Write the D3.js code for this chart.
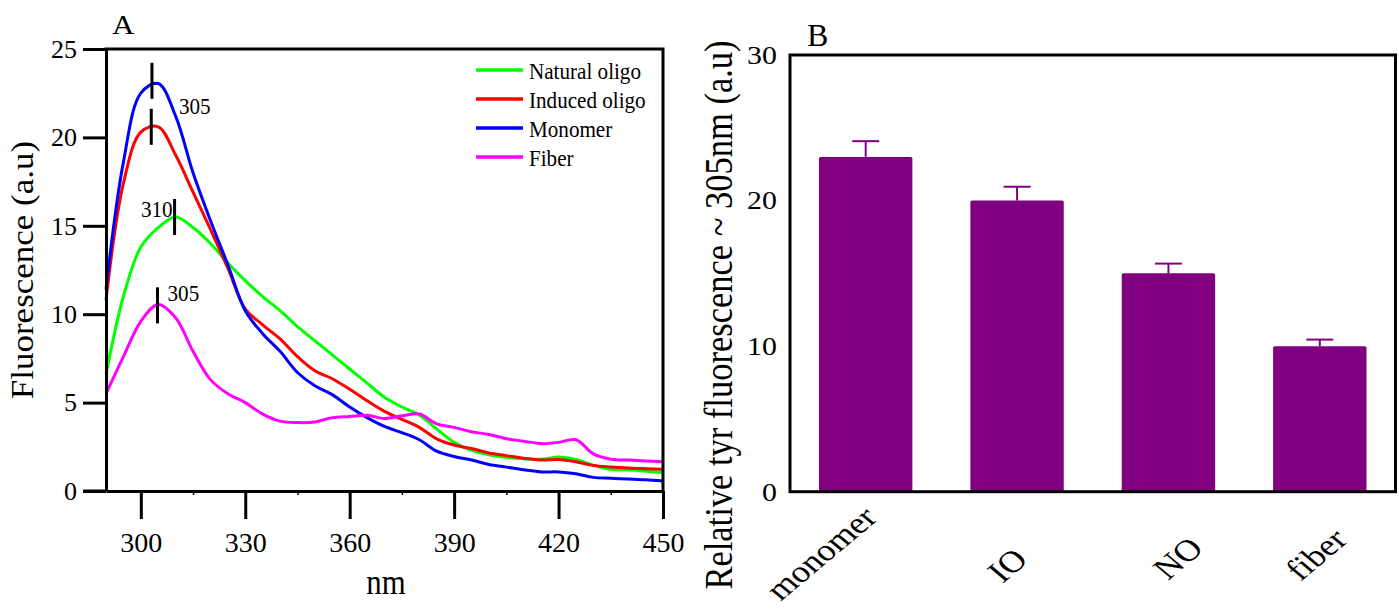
<!DOCTYPE html>
<html>
<head>
<meta charset="utf-8">
<script src="https://cdn.jsdelivr.net/npm/d3@7"></script>
<style>
  body { margin: 0; background: #fff; }
  text { font-family: "Liberation Serif", "Times New Roman", serif; fill: #000; }
</style>
</head>
<body>
<svg id="chart" width="1399" height="610"></svg>
<script>
// ---- panel A data: emission spectra ----
const wavelengths = [290,295,300,305,310,315,320,325,330,335,340,345,350,355,360,365,370,375,380,385,390,395,400,405,410,415,420,425,430,435,440,445,450];
const naturalOligo = [6.6,11.0,13.8,14.9,15.5,14.9,14.0,12.9,11.9,11.0,10.2,9.3,8.5,7.7,6.9,6.1,5.3,4.75,4.3,3.5,2.75,2.3,2.05,1.9,1.82,1.8,1.92,1.78,1.45,1.22,1.2,1.12,1.04];
const inducedOligo = [10.8,17.4,20.3,20.6,19.0,16.9,14.8,12.6,10.3,9.4,8.6,7.6,6.8,6.35,5.75,5.1,4.5,4.05,3.6,2.95,2.6,2.4,2.15,2.0,1.85,1.75,1.78,1.65,1.45,1.36,1.3,1.26,1.23];
const monomer = [11.4,18.6,22.5,23.05,21.2,18.0,15.3,12.8,10.2,8.9,7.9,6.7,5.95,5.45,4.75,4.15,3.65,3.3,2.9,2.25,1.95,1.75,1.5,1.35,1.2,1.08,1.08,0.98,0.77,0.72,0.68,0.64,0.57];
const fiber = [5.5,7.6,9.6,10.55,9.8,7.9,6.3,5.5,5.0,4.35,3.95,3.87,3.9,4.15,4.22,4.28,4.1,4.25,4.35,3.8,3.6,3.35,3.2,2.96,2.82,2.68,2.75,2.9,2.1,1.8,1.75,1.7,1.66];
const seriesNames = ['Natural oligo', 'Induced oligo', 'Monomer', 'Fiber'];
const seriesColors = ['#00ff00', '#ff0000', '#0000ff', '#ff00ff'];
const xTicksA = [300,330,360,390,420,450];
const xMinorA = [315,345,375,405,435];
const yTicksA = [0,5,10,15,20,25];
// peak markers: wavelength, peak height, label
const peakNm = [303.2, 303.0, 309.7, 304.8];
const peakVal = [23.2, 20.6, 15.5, 10.5];
const peakText = ['305', '', '310', '305'];

// ---- panel B data ----
const categories = ['monomer', 'IO', 'NO', 'fiber'];
const barValues = [23, 20, 15, 10];
const barErrors = [1.08, 0.95, 0.67, 0.45];
const yTicksB = [0,10,20,30];

const svg = d3.select('#chart');
const SQ_A = 0.88; // panel A text is a bit narrowed
const SQ_B = 1.19; // panel B text is a bit widened

function label(x, y, txt, size, anchor, rot, sx) {
  const g = svg.append('g')
    .attr('transform', `translate(${x},${y}) scale(${sx},1)` + (rot ? ` rotate(${rot})` : ''));
  return g.append('text')
    .attr('text-anchor', anchor || 'start')
    .style('font-size', size + 'px')
    .text(txt);
}

// =============== Panel A ===============
const xA = d3.scaleLinear().domain([290, 450]).range([106, 663]);
const yA = d3.scaleLinear().domain([0, 25]).range([491, 49]);

const series = [naturalOligo, inducedOligo, monomer, fiber];
const line = d3.line()
  .x((d, i) => xA(wavelengths[i]))
  .y(d => yA(d))
  .curve(d3.curveCatmullRom);

series.forEach((s, k) => {
  svg.append('path')
    .attr('d', line(s))
    .attr('fill', 'none')
    .attr('stroke', seriesColors[k])
    .attr('stroke-width', 3);
});

// frame top + right
svg.append('path')
  .attr('d', `M${xA(290)},${yA(25)}H${xA(450)}V${yA(0)}`)
  .attr('fill', 'none').attr('stroke', '#000').attr('stroke-width', 3)
  .attr('stroke-linecap', 'square');

const axLeftA = svg.append('g')
  .attr('transform', `translate(${xA(290)},0)`)
  .call(d3.axisLeft(yA).tickValues(yTicksA).tickSize(23).tickSizeOuter(0).tickPadding(6));
const axBottomA = svg.append('g')
  .attr('transform', `translate(0,${yA(0)})`)
  .call(d3.axisBottom(xA).tickValues(xTicksA).tickSize(28).tickSizeOuter(0).tickPadding(13));
const axMinorA = svg.append('g')
  .attr('transform', `translate(0,${yA(0)})`)
  .call(d3.axisBottom(xA).tickValues(xMinorA).tickSize(4).tickFormat(''));
axMinorA.select('.domain').remove();
axMinorA.selectAll('line').attr('stroke-width', 1.5);

[axLeftA, axBottomA].forEach(ax => {
  ax.select('.domain').attr('stroke-width', 3);
  ax.selectAll('.tick line').attr('stroke-width', 3);
  ax.selectAll('text').style('font-family', '"Liberation Serif", serif').attr('fill', '#000');
});
axLeftA.selectAll('text').style('font-size', '26px');
axBottomA.selectAll('text').style('font-size', '28px');
// extend the 0 tick to the left like the figure
svg.append('line')
  .attr('x1', xA(290) - 23).attr('x2', xA(290))
  .attr('y1', yA(0)).attr('y2', yA(0))
  .attr('stroke', '#000').attr('stroke-width', 3);

// peak markers
peakNm.forEach((nm, i) => {
  svg.append('line')
    .attr('x1', xA(nm)).attr('x2', xA(nm))
    .attr('y1', yA(peakVal[i]) - 18).attr('y2', yA(peakVal[i]) + 18)
    .attr('stroke', '#000').attr('stroke-width', 3);
});
// marker labels (placement offsets)
const peakLabelPos = [[27, 33, 'start'], null, [-2, 0, 'end'], [10, -4.6, 'start']];
peakText.forEach((t, i) => {
  if (!t) return;
  const p = peakLabelPos[i];
  label(xA(peakNm[i]) + p[0], yA(peakVal[i]) + p[1], t, 24, p[2], 0, SQ_A);
});

// legend
const legend = svg.append('g').attr('transform', 'translate(476,70)');
seriesNames.forEach((n, i) => {
  legend.append('line')
    .attr('x1', 0).attr('x2', 47)
    .attr('y1', i * 29).attr('y2', i * 29)
    .attr('stroke', seriesColors[i]).attr('stroke-width', 3.5);
  label(529, 70 + i * 29 + 9, n, 24, 'start', 0, SQ_A);
});

label(112, 34, 'A', 27, 'start', 0, 1.15);
label(386, 594, 'nm', 35, 'middle', 0, SQ_A);
label(33, (yA(0) + yA(25)) / 2, 'Fluorescence (a.u)', 35, 'middle', -90, SQ_A);

// =============== Panel B ===============
const xB = d3.scaleBand().domain(categories).range([790, 1395.5])
  .paddingInner(0.383).paddingOuter(0.1915);
const yB = d3.scaleLinear().domain([0, 30]).range([491.7, 55]);

svg.selectAll('rect.bar')
  .data(barValues)
  .enter().append('rect')
  .attr('class', 'bar')
  .attr('x', (d, i) => xB(categories[i]))
  .attr('y', d => yB(d))
  .attr('width', xB.bandwidth())
  .attr('height', d => yB(0) - yB(d))
  .attr('rx', 1.5)
  .attr('fill', '#800080');

barValues.forEach((v, i) => {
  const cx = xB(categories[i]) + xB.bandwidth() / 2;
  svg.append('line')
    .attr('x1', cx).attr('x2', cx)
    .attr('y1', yB(v)).attr('y2', yB(v + barErrors[i]))
    .attr('stroke', '#800080').attr('stroke-width', 2);
  svg.append('line')
    .attr('x1', cx - 13.5).attr('x2', cx + 13.5)
    .attr('y1', yB(v + barErrors[i])).attr('y2', yB(v + barErrors[i]))
    .attr('stroke', '#800080').attr('stroke-width', 2);
});

svg.append('rect')
  .attr('x', 790).attr('y', yB(30))
  .attr('width', 1395.5 - 790).attr('height', yB(0) - yB(30))
  .attr('fill', 'none').attr('stroke', '#000').attr('stroke-width', 3);

// y tick labels (drawn from the axis so they follow the scale)
const axLeftB = svg.append('g')
  .attr('transform', 'translate(790,0)')
  .call(d3.axisLeft(yB).tickValues(yTicksB).tickSize(0).tickPadding(0));
axLeftB.select('.domain').remove();
axLeftB.selectAll('.tick text')
  .attr('x', 0)
  .attr('transform', `translate(-13,0) scale(1.15,1)`)
  .style('font-size', '26px')
  .style('font-family', '"Liberation Serif", serif').attr('fill', '#000');

// rotated category labels; small per-label nudges as in the figure
const catShift = [[-45, -4], [-10, 8], [9, 1], [-4, -3]];
categories.forEach((c, i) => {
  label(xB(c) + xB.bandwidth() / 2 + catShift[i][0], 557 + catShift[i][1], c, 30.5, 'middle', -45, SQ_B)
    .attr('dy', '0.35em');
});

label(807, 46, 'B', 32, 'start', 0, 1);
label(732, 315, 'Relative tyr fluorescence ~ 305nm (a.u)', 34.5, 'middle', -90, SQ_B);
</script>
</body>
</html>
